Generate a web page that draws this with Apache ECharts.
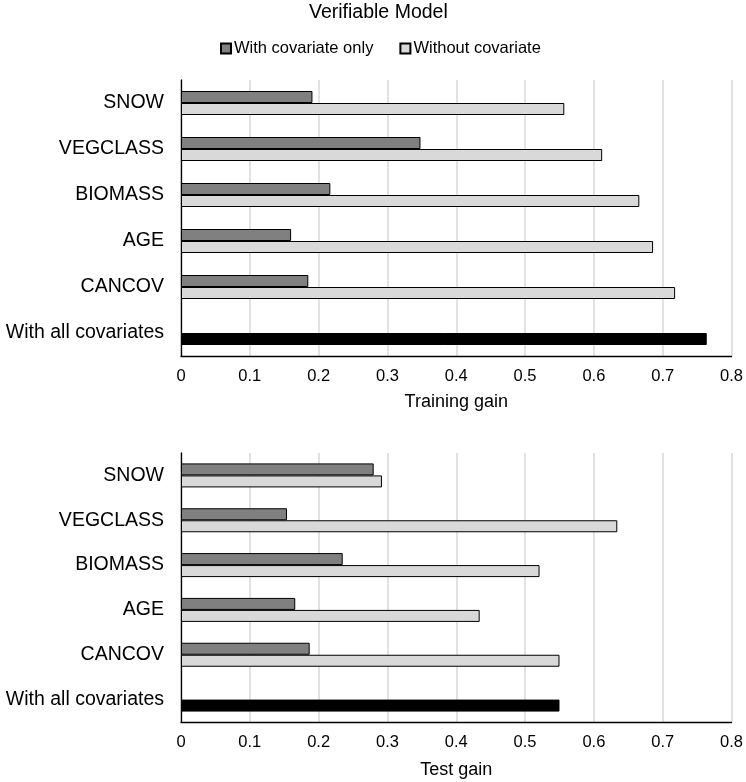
<!DOCTYPE html>
<html>
<head>
<meta charset="utf-8">
<script src="https://cdn.jsdelivr.net/npm/echarts@6/dist/echarts.min.js"></script>
<style>
html,body{margin:0;padding:0;background:#fff;}
#chart{width:746px;height:782px;}
</style>
</head>
<body>
<div id="chart"></div>
<script>
var categories = ['SNOW', 'VEGCLASS', 'BIOMASS', 'AGE', 'CANCOV', 'With all covariates'];
var seriesNames = ['With covariate only', 'Without covariate'];
// Training gain
var trainWithOnly = [0.191, 0.348, 0.217, 0.160, 0.185, null];
var trainWithout = [0.557, 0.612, 0.666, 0.686, 0.718, 0.764];
// Test gain
var testWithOnly = [0.280, 0.154, 0.235, 0.166, 0.187, null];
var testWithout = [0.292, 0.634, 0.521, 0.434, 0.550, 0.550];
var xTicks = [0, 0.1, 0.2, 0.3, 0.4, 0.5, 0.6, 0.7, 0.8];
var axisNames = ['Training gain', 'Test gain'];

var FONT = 'Liberation Sans, Arial, sans-serif';
var DARK = '#808080', LIGHT = '#d9d9d9', ALL = '#000000';

function withAllHighlight(arr) {
  return arr.map(function (v, i) {
    if (categories[i] === 'With all covariates' && v != null) {
      return { value: v, itemStyle: { color: ALL } };
    }
    return v;
  });
}

function xAxisCfg(gridIndex, name, nameGap) {
  return {
    type: 'value', gridIndex: gridIndex,
    min: xTicks[0], max: xTicks[xTicks.length - 1], interval: xTicks[1] - xTicks[0],
    name: name, nameLocation: 'middle', nameGap: nameGap,
    nameTextStyle: { fontFamily: FONT, fontSize: 18, color: '#000' },
    axisLine: { show: true, lineStyle: { color: '#000', width: 1.3 } },
    axisTick: { show: false },
    axisLabel: { fontFamily: FONT, fontSize: 16.5, color: '#000', margin: 12,
      formatter: function (v) { return String(Math.round(v * 10) / 10); } },
    splitLine: { show: true, lineStyle: { color: '#d9d9d9', width: 1.5 } }
  };
}
function yAxisCfg(gridIndex) {
  return {
    type: 'category', gridIndex: gridIndex, data: categories, inverse: true,
    axisLine: { show: true, onZero: false, lineStyle: { color: '#000', width: 1.3 } },
    axisTick: { show: false },
    axisLabel: { fontFamily: FONT, fontSize: 19.5, color: '#000', margin: 17 },
    splitLine: { show: false }
  };
}
function barSeries(name, data, color, idx) {
  return {
    type: 'bar', name: name, xAxisIndex: idx, yAxisIndex: idx,
    data: data, barWidth: 12, barGap: '0%',
    itemStyle: { color: color, borderColor: '#000', borderWidth: 1 },
    emphasis: { disabled: true }
  };
}

var chart = echarts.init(document.getElementById('chart'), null, { renderer: 'canvas' });
chart.setOption({
  animation: false,
  backgroundColor: '#fff',
  title: {
    text: 'Verifiable Model', left: 304, top: -3,
    textStyle: { fontFamily: FONT, fontSize: 19.5, fontWeight: 'normal', color: '#000', lineHeight: 21 }
  },
  legend: {
    data: seriesNames, left: 215, top: 35, icon: 'rect',
    itemWidth: 10, itemHeight: 10, itemGap: 26,
    textStyle: { fontFamily: FONT, fontSize: 16.5, color: '#000', padding: [0, 0, 0, -2] }
  },
  grid: [
    { left: 181, right: 13, top: 80, height: 276 },
    { left: 181, right: 13, top: 453, height: 269 }
  ],
  xAxis: [xAxisCfg(0, axisNames[0], 37), xAxisCfg(1, axisNames[1], 39)],
  yAxis: [yAxisCfg(0), yAxisCfg(1)],
  series: [
    barSeries(seriesNames[0], trainWithOnly, DARK, 0),
    barSeries(seriesNames[1], withAllHighlight(trainWithout), LIGHT, 0),
    barSeries(seriesNames[0], testWithOnly, DARK, 1),
    barSeries(seriesNames[1], withAllHighlight(testWithout), LIGHT, 1)
  ]
});
</script>
</body>
</html>
